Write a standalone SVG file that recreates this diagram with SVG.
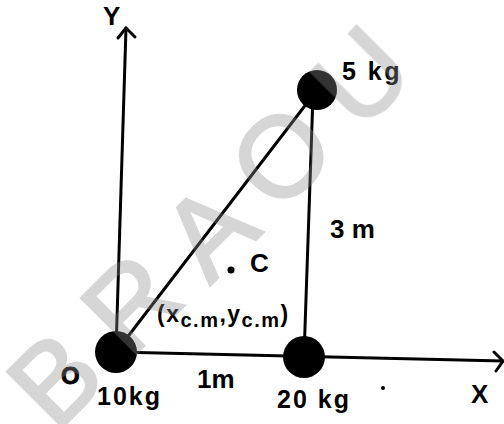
<svg xmlns="http://www.w3.org/2000/svg" width="504" height="424" viewBox="0 0 504 424">
<style>
.ln{stroke:#000;stroke-width:3;fill:none;stroke-linecap:round;stroke-linejoin:round}
.t{font-family:"Liberation Sans",Arial,sans-serif;font-weight:bold;fill:#000}
.wm{font-family:"Liberation Sans",Arial,sans-serif;font-size:114px;fill:#8c8c8c;stroke:#8c8c8c;stroke-width:2.5;text-anchor:middle}
.mass{fill:#000}
</style>
<rect width="504" height="424" fill="#fff"/>
<g id="connectors">
<path class="ln" d="M116,350 L126,28"/>
<path class="ln" d="M118,38 L126,28 L135,37"/>
<path class="ln" d="M116,352 L503,361"/>
<path class="ln" d="M494,352 L503,361 L496,371"/>
<path class="ln" d="M116,352 L317,90" stroke-width="2.5"/>
<path class="ln" d="M313,95 L304,357" stroke-width="2.5"/>
</g>
<g id="axis-y"><text class="t" x="103" y="25" font-size="26">Y</text></g>
<g id="axis-x"><text class="t" x="471" y="403" font-size="26">X</text></g>
<g id="origin"><text class="t" x="61" y="384" font-size="24" font-weight="normal" stroke="#000" stroke-width="0.8">O</text></g>
<g id="m10">
<circle class="mass" cx="116" cy="352" r="21"/>
<text class="t" x="97" y="405" font-size="25" letter-spacing="2">10kg</text>
</g>
<g id="m20">
<circle class="mass" cx="304" cy="357" r="21"/>
<text class="t" x="277" y="408" font-size="25" letter-spacing="2">20 kg</text>
</g>
<g id="m5">
<circle class="mass" cx="317" cy="90" r="20"/>
<text class="t" x="342" y="80" font-size="25" letter-spacing="2.5">5 kg</text>
</g>
<g id="label-1m"><text class="t" x="197" y="388" font-size="26">1m</text></g>
<g id="label-3m"><text class="t" x="330" y="238" font-size="26">3 m</text></g>
<g id="cm">
<circle cx="231" cy="270" r="3.5" fill="#000"/>
<text class="t" x="250" y="272" font-size="26" font-weight="normal">C</text>
<text class="t" x="157" y="322" font-size="23" letter-spacing="1.5">(x<tspan font-size="20" dy="5">c.m</tspan><tspan dy="-5">,y</tspan><tspan font-size="20" dy="5">c.m</tspan><tspan dy="-5">)</tspan></text>
</g>
<circle cx="383" cy="388" r="2" fill="#000"/>
<g id="watermark" opacity="0.36">
<text class="wm" transform="translate(54,378) rotate(-45)" dy="41">B</text>
<text class="wm" transform="translate(130,302) rotate(-45)" dy="41">R</text>
<text class="wm" transform="translate(208,230) rotate(-45)" dy="41">A</text>
<text class="wm" transform="translate(280,155) rotate(-45)" dy="41">O</text>
<text class="wm" transform="translate(360,75) rotate(-45)" dy="41">U</text>
</g>
</svg>
